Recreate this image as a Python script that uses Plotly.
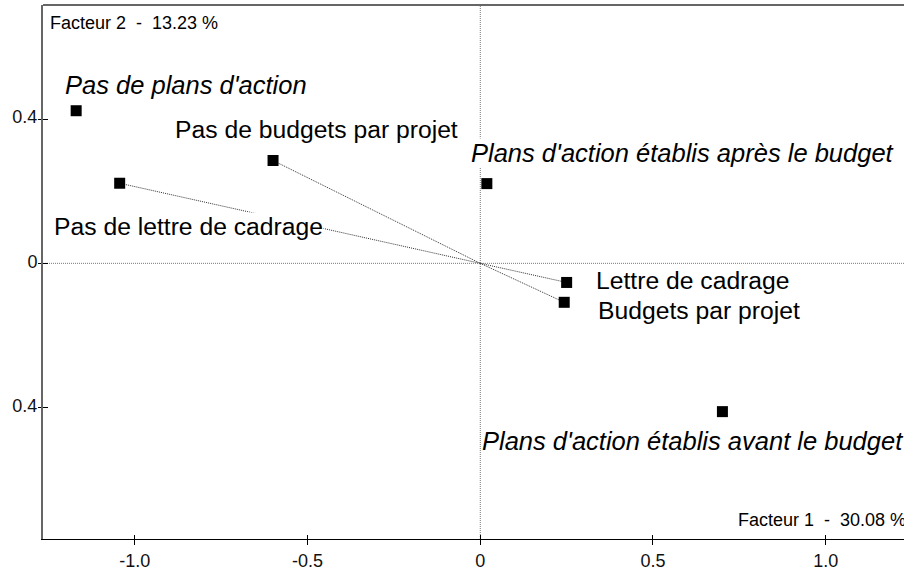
import plotly.graph_objects as go

# ---------------- data ----------------
modalities = [
    "Pas de plans d'action",
    "Plans d'action établis après le budget",
    "Plans d'action établis avant le budget",
    "Pas de lettre de cadrage",
    "Lettre de cadrage",
    "Pas de budgets par projet",
    "Budgets par projet",
]
factor1 = [-1.170, 0.019, 0.701, -1.044, 0.250, -0.600, 0.243]
factor2 = [0.423, 0.221, -0.411, 0.222, -0.053, 0.285, -0.108]
italic_group = [True, True, True, False, False, False, False]

x_tick_vals = [-1.0, -0.5, 0.0, 0.5, 1.0]
x_tick_text = ["-1.0", "-0.5", "0", "0.5", "1.0"]
y_tick_vals = [0.4, 0.0, -0.4]
y_tick_text = ["0.4", "0", "0.4"]

x_title = "Facteur 1  -  30.08 %"
y_title = "Facteur 2  -  13.23 %"

# ---------------- layout / style ----------------
FONT = "Liberation Sans, Arial, sans-serif"
LABEL_SIZE = 24.7
ITALIC_SIZE = 25.5
SMALL_SIZE = 18
# label pixel offsets (left edge, vertical centre) relative to the marker
label_shift = [(-12, 26), (-17, 31), (-241, -29), (-67, -43), (28, 2), (-99, 31), (33, -8)]

fig = go.Figure()

# dotted links from origin for the non-italic modalities
lx, ly = [], []
for xi, yi, it in zip(factor1, factor2, italic_group):
    if not it:
        lx += [0, xi, None]
        ly += [0, yi, None]
fig.add_trace(go.Scatter(x=lx, y=ly, mode="lines",
                         line=dict(color="#333", width=1, dash="1px,1px"),
                         hoverinfo="skip", showlegend=False))

fig.add_trace(go.Scatter(x=factor1, y=factor2, mode="markers",
                         marker=dict(symbol="square", size=11, color="black",
                                     line=dict(width=0)),
                         text=modalities, hoverinfo="text", showlegend=False))

annotations = []
for name, xi, yi, it, (dx, dy) in zip(modalities, factor1, factor2, italic_group, label_shift):
    annotations.append(dict(
        x=xi, y=yi, xref="x", yref="y", text=(f"<i>{name}</i>" if it else name),
        showarrow=False, xanchor="left", yanchor="middle", xshift=dx, yshift=dy,
        font=dict(family=FONT, size=(ITALIC_SIZE if it else LABEL_SIZE), color="black"),
        bgcolor="white", borderpad=0))

annotations.append(dict(x=0, y=1, xref="paper", yref="paper", text=y_title,
                        showarrow=False, xanchor="left", yanchor="middle",
                        xshift=5, yshift=-18,
                        font=dict(family=FONT, size=SMALL_SIZE, color="black")))
annotations.append(dict(x=1, y=0, xref="paper", yref="paper", text=x_title,
                        showarrow=False, xanchor="right", yanchor="middle",
                        xshift=4, yshift=19,
                        font=dict(family=FONT, size=SMALL_SIZE, color="black")))

shapes = [
    dict(type="line", xref="x", yref="paper", x0=0, x1=0, y0=0, y1=1,
         line=dict(color="#777", width=1, dash="1px,1px"), layer="below"),
    dict(type="line", xref="paper", yref="y", x0=0, x1=1, y0=0, y1=0,
         line=dict(color="#777", width=1, dash="1px,1px"), layer="below"),
    dict(type="line", xref="paper", yref="paper", x0=0, x1=1, y0=1, y1=1,
         line=dict(color="#666", width=2), layer="above"),
]

x_range = [-1.266, 1.2267]
y_range = [-0.764, 0.716]

fig.update_layout(
    width=904, height=570,
    margin=dict(l=43, r=0, t=5, b=31),
    paper_bgcolor="white", plot_bgcolor="white",
    font=dict(family=FONT, size=SMALL_SIZE, color="black"),
    annotations=annotations, shapes=shapes,
    xaxis=dict(range=x_range, showgrid=False, zeroline=False,
               showline=True, linecolor="black", linewidth=1,
               ticks="outside", ticklen=5, tickcolor="black", tickwidth=1,
               tickvals=x_tick_vals, ticktext=x_tick_text,
               tickfont=dict(family=FONT, size=SMALL_SIZE, color="#111")),
    yaxis=dict(range=y_range, showgrid=False, zeroline=False,
               showline=True, linecolor="#666", linewidth=2,
               ticks="outside", ticklen=3, tickcolor="black", tickwidth=1,
               tickvals=y_tick_vals, ticktext=y_tick_text,
               ticklabelstandoff=-3, ticklabelshift=-2,
               tickfont=dict(family=FONT, size=SMALL_SIZE, color="#111")),
    xaxis2=dict(range=x_range, overlaying="x", anchor="y", side="bottom",
                showgrid=False, zeroline=False, showline=False,
                ticks="inside", ticklen=4, tickcolor="black", tickwidth=1,
                tickvals=x_tick_vals, showticklabels=False),
    yaxis2=dict(range=y_range, overlaying="y", anchor="x", side="left",
                showgrid=False, zeroline=False, showline=False,
                ticks="inside", ticklen=5, tickcolor="black", tickwidth=1,
                tickvals=y_tick_vals, showticklabels=False),
)

# invisible trace to activate the overlay axes
fig.add_trace(go.Scatter(x=[x_range[0]], y=[y_range[0]], xaxis="x2", yaxis="y2",
                         mode="markers", marker=dict(opacity=0),
                         hoverinfo="skip", showlegend=False))

fig.write_html("out.html", config={"displayModeBar": False},
               post_script="document.body.style.margin='0';document.body.style.overflow='hidden';")
